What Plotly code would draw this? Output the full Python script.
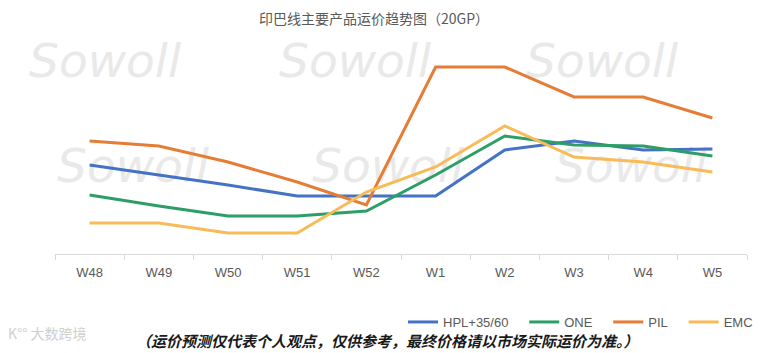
import plotly.graph_objects as go

weeks = ["W48", "W49", "W50", "W51", "W52", "W1", "W2", "W3", "W4", "W5"]
hpl = [890, 790, 690, 580, 580, 580, 1040, 1130, 1040, 1050]
one = [590, 480, 380, 380, 430, 790, 1180, 1090, 1080, 980]
pil = [1130, 1080, 920, 720, 490, 1870, 1870, 1570, 1570, 1360]
emc = [310, 310, 210, 210, 620, 870, 1280, 970, 920, 820]

series = [
    ("HPL+35/60", hpl, "#4472C4"),
    ("ONE", one, "#2E9E68"),
    ("PIL", pil, "#E67D36"),
    ("EMC", emc, "#F7BB58"),
]

W, H = 774, 353
L, R, T, B = 55, 27, 45, 99
plot_w = W - L - R
plot_h = H - T - B
YMAX = 2090
xs = list(range(len(weeks)))
PAD = "&nbsp;" * 3


def px2x(px):
    return (px - L) / plot_w * len(weeks) - 0.5


def py2y(py):
    return (H - B - py) / plot_h * YMAX


fig = go.Figure()

# watermark (below the lines)
wm_px = [(105, 65), (355, 65), (602, 65),
         (133, 170), (388, 170), (631, 170),
         (188, 258), (440, 258), (686, 258)]
fig.add_trace(go.Scatter(
    x=[px2x(p[0]) for p in wm_px], y=[py2y(p[1]) for p in wm_px],
    mode="text", text=["Sowoll"] * len(wm_px),
    textfont=dict(family="DejaVu Sans", size=47, color="#e9e9e9", style="italic"),
    textposition="middle center", hoverinfo="skip", showlegend=False,
    cliponaxis=False,
))

for name, vals, color in series:
    fig.add_trace(go.Scatter(
        x=xs, y=vals, name=name + PAD, mode="lines",
        line=dict(color=color, width=3),
        cliponaxis=False,
    ))

fig.update_layout(
    width=W, height=H,
    margin=dict(l=L, r=R, t=T, b=B),
    paper_bgcolor="white", plot_bgcolor="white",
    showlegend=True,
    legend=dict(
        orientation="h", xref="container", yref="container",
        x=403 / W, y=1 - 307 / H, xanchor="left", yanchor="top",
        font=dict(family="Liberation Sans, Arial, sans-serif", size=13, color="#595959"),
        bgcolor="rgba(0,0,0,0)",
    ),
    xaxis=dict(
        range=[-0.5, len(weeks) - 0.5],
        tickvals=xs, ticktext=weeks, ticks="", showgrid=False, zeroline=False,
        showline=True, linecolor="#d9d9d9", linewidth=1,
        ticklabelstandoff=6,
        tickfont=dict(family="Liberation Sans, Arial, sans-serif", size=13, color="#595959"),
        minor=dict(tickvals=[i - 0.5 for i in range(len(weeks) + 1)],
                   ticks="outside", ticklen=5, tickcolor="#d9d9d9", showgrid=False),
        fixedrange=True,
    ),
    yaxis=dict(range=[0, YMAX], showticklabels=False, showgrid=False,
               zeroline=False, showline=False, fixedrange=True),
    annotations=[
        dict(text="印巴线主要产品运价趋势图（20GP）", xref="paper", yref="paper",
             x=(374 - L) / plot_w, y=(H - B - 18) / plot_h,
             showarrow=False, xanchor="center", yanchor="middle",
             font=dict(family="Noto Sans CJK SC", size=14, color="#595959")),
        dict(text="（运价预测仅代表个人观点，仅供参考，最终价格请以市场实际运价为准。）",
             xref="paper", yref="paper",
             x=(387 - L) / plot_w, y=(H - B - 340) / plot_h,
             showarrow=False, xanchor="center", yanchor="middle",
             font=dict(family="Noto Sans CJK SC", size=15, color="#1a1a1a",
                       style="italic", weight="bold")),
        dict(text="K°° 大数跨境", xref="paper", yref="paper",
             x=(6 - L) / plot_w, y=(H - B - 333) / plot_h,
             showarrow=False, xanchor="left", yanchor="middle",
             font=dict(family="Noto Sans CJK SC", size=14, color="#cfcfcf")),
    ],
)

fig.write_html("out.html")
